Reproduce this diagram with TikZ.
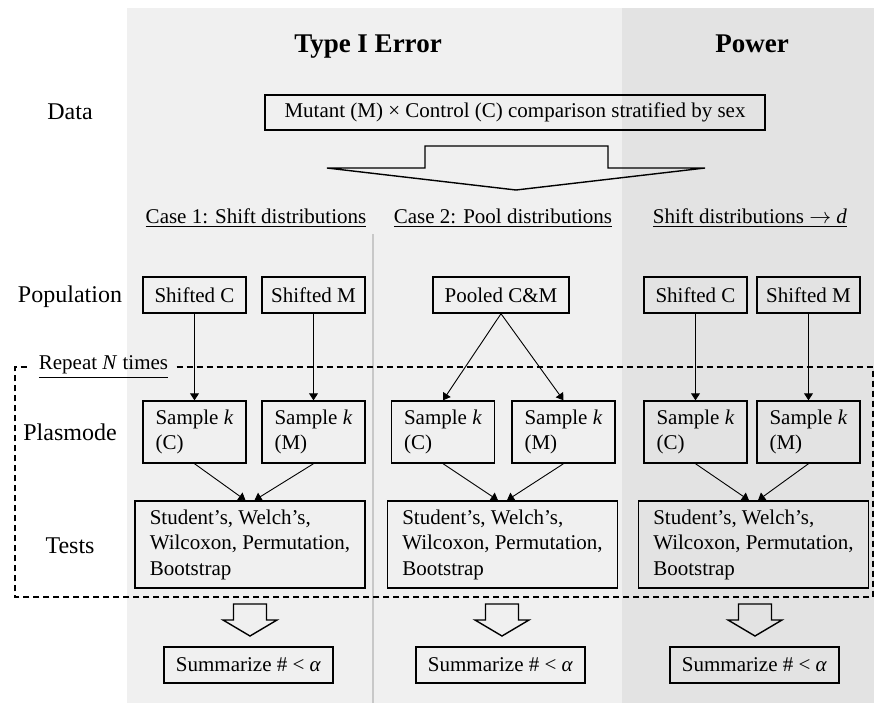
\documentclass[tikz,border=0pt]{standalone}
\usepackage{fontspec}
\setmainfont{Liberation Serif}
\usetikzlibrary{arrows.meta}
\definecolor{paneltype}{RGB}{240,240,240}
\definecolor{panelpow}{RGB}{227,227,227}
\definecolor{divline}{RGB}{200,200,200}
\newcommand{\boxfont}{\fontsize{10.5}{12.75}\selectfont}
\newcommand{\rowfont}{\fontsize{12}{14}\selectfont}
\tikzset{
  box/.style={draw, line width=0.7pt, inner sep=0pt, minimum width=51.5pt, minimum height=18pt, font=\boxfont},
  samplebox/.style={box, minimum height=31pt, align=left},
  testbox/.style={box, minimum width=115pt, minimum height=43.5pt, align=left},
  sumbox/.style={box, minimum width=84.5pt},
  rowlabel/.style={font=\rowfont, inner sep=0pt},
  coltitle/.style={font=\fontsize{13.5}{16}\selectfont\bfseries, inner sep=0pt, anchor=base},
  caselabel/.style={font=\boxfont, inner sep=0pt},
  link/.style={line width=0.45pt, -{Triangle[length=3.5pt,width=4.5pt]}},
  blockarrow/.style={draw, line width=0.7pt, line join=miter},
  repeatline/.style={line width=0.7pt, dash pattern=on 3pt off 2pt}
}
\begin{document}
\begin{tikzpicture}[x=0.5pt,y=-0.5pt]
\useasboundingbox (0,0) rectangle (874,703);
\fill [paneltype] (127,8) rectangle (622,703);
\fill [panelpow] (622,8) rectangle (874,703);
\draw [divline, line width=0.6pt] (373,234) -- (373,703);

\node [coltitle] (titleerr) at (368,52) {Type I Error};
\node [coltitle] (titlepow) at (752,52) {Power};

\node [rowlabel] (lbldata) at (70,112) {Data};
\node [rowlabel] (lblpop) at (70,297) {Population};
\node [rowlabel] (lblplas) at (70,432) {Plasmode};
\node [rowlabel] (lbltests) at (70,546) {Tests};

\node [box, minimum width=250pt, minimum height=17.5pt] (data) at (515,112.5)
  {Mutant (M) × Control (C) comparison stratified by sex};
\draw [blockarrow] (425,168) -- (425,146) -- (608,146) -- (608,168) -- (705,168)
  -- (516,190) -- (327,168) -- cycle;

\node [caselabel] (case1) at (256,218) {\underline{Case 1: Shift distributions}};
\node [caselabel] (case2) at (503,218) {\underline{Case 2: Pool distributions}};
\node [caselabel] (case3) at (750,218) {\underline{Shift distributions $\rightarrow$ \textit{d}}};

\node [box] (shiftCa) at (194.5,295) {Shifted C};
\node [box] (shiftMa) at (313.5,295) {Shifted M};
\node [box, minimum width=68pt] (pooled) at (501,295) {Pooled C\&M};
\node [box] (shiftCc) at (695.5,295) {Shifted C};
\node [box] (shiftMc) at (808.5,295) {Shifted M};

\node [samplebox] (sampCa) at (194.5,432) {Sample \textit{k}\\(C)};
\node [samplebox] (sampMa) at (313.5,432) {Sample \textit{k}\\(M)};
\node [samplebox] (sampCb) at (443,432) {Sample \textit{k}\\(C)};
\node [samplebox] (sampMb) at (563.5,432) {Sample \textit{k}\\(M)};
\node [samplebox] (sampCc) at (695.5,432) {Sample \textit{k}\\(C)};
\node [samplebox] (sampMc) at (808.5,432) {Sample \textit{k}\\(M)};

\node [testbox] (testsa) at (250,544.5) {Student's, Welch's,\\Wilcoxon, Permutation,\\Bootstrap};
\node [testbox] (testsb) at (502.5,544.5) {Student's, Welch's,\\Wilcoxon, Permutation,\\Bootstrap};
\node [testbox] (testsc) at (753.5,544.5) {Student's, Welch's,\\Wilcoxon, Permutation,\\Bootstrap};

\node [sumbox] (suma) at (248.5,665) {Summarize \# < \textit{α}};
\node [sumbox] (sumb) at (500.5,665) {Summarize \# < \textit{α}};
\node [sumbox] (sumc) at (754.5,665) {Summarize \# < \textit{α}};

\draw [link] (shiftCa.south) -- (sampCa.north);
\draw [link] (shiftMa.south) -- (sampMa.north);
\draw [link] (pooled.south) -- (sampCb.north);
\draw [link] (pooled.south) -- (sampMb.north);
\draw [link] (shiftCc.south) -- (sampCc.north);
\draw [link] (shiftMc.south) -- (sampMc.north);

\draw [link] (sampCa.south) -- ([xshift=-2.25pt]testsa.north);
\draw [link] (sampMa.south) -- ([xshift=2.25pt]testsa.north);
\draw [link] (sampCb.south) -- ([xshift=-2.25pt]testsb.north);
\draw [link] (sampMb.south) -- ([xshift=2.25pt]testsb.north);
\draw [link] (sampCc.south) -- ([xshift=-2.25pt]testsc.north);
\draw [link] (sampMc.south) -- ([xshift=2.25pt]testsc.north);

\node [caselabel, inner xsep=4pt] (repeat) at (103.5,367) {\underline{Repeat \textit{N} times}};
\draw [repeatline] (repeat.east) -- (873,367) -- (873,597) -- (15,597) -- (15,367) -- (repeat.west);

\foreach \cx in {250,502,755}
  \draw [blockarrow] ({\cx-16.5},604) -- ({\cx+16.5},604) -- ({\cx+16.5},620) -- ({\cx+27},620)
    -- (\cx,636) -- ({\cx-27},620) -- ({\cx-16.5},620) -- cycle;
\end{tikzpicture}
\end{document}
